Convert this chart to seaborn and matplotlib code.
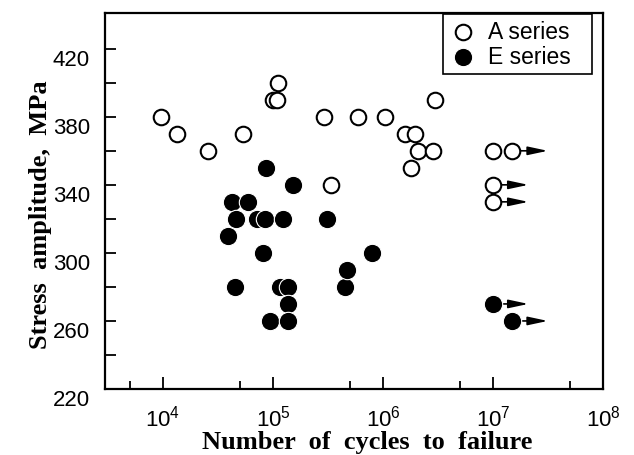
import numpy as np
import pandas as pd
import matplotlib
matplotlib.use("Agg")
import matplotlib.pyplot as plt
import seaborn as sns

# ---- data ----
a_cycles = [9.5e3, 1.34e4, 2.56e4, 5.3e4, 1.0e5, 1.09e5, 1.11e5, 2.9e5, 3.4e5,
            5.9e5, 1.04e6, 1.58e6, 1.8e6, 1.95e6, 2.08e6, 2.85e6, 3.0e6,
            1.0e7, 1.0e7, 1.0e7, 1.5e7]
a_stress = [380, 370, 360, 370, 390, 390, 400, 380, 340,
            380, 380, 370, 350, 370, 360, 360, 390,
            360, 340, 330, 360]
a_runout = [False, False, False, False, False, False, False, False, False,
            False, False, False, False, False, False, False, False,
            False, True, True, True]

e_cycles = [3.9e4, 4.24e4, 4.5e4, 4.6e4, 5.9e4, 7.2e4, 8.1e4, 8.5e4, 8.6e4,
            9.4e4, 1.16e5, 1.23e5, 1.37e5, 1.37e5, 1.37e5, 1.52e5, 3.1e5,
            4.5e5, 4.7e5, 7.9e5, 1.0e7, 1.5e7]
e_stress = [310, 330, 280, 320, 330, 320, 300, 320, 350,
            260, 280, 320, 280, 270, 260, 340, 320,
            280, 290, 300, 270, 260]
e_runout = [False] * 20 + [True, True]

x_ticks = [1e4, 1e5, 1e6, 1e7, 1e8]
x_minor = [5e3, 5e4, 5e5, 5e6, 5e7]
y_ticks = [220, 260, 300, 340, 380, 420]
y_minor = [240, 280, 320, 360, 400]

df_a = pd.DataFrame({"cycles": a_cycles, "stress": a_stress, "runout": a_runout})
df_e = pd.DataFrame({"cycles": e_cycles, "stress": e_stress, "runout": e_runout})

# ---- style ----
sns.set_style("ticks")
plt.rcParams["font.family"] = ["Liberation Sans", "DejaVu Sans"]
plt.rcParams["mathtext.default"] = "regular"
plt.rcParams["mathtext.fontset"] = "custom"
plt.rcParams["mathtext.rm"] = "Liberation Sans"
plt.rcParams["mathtext.it"] = "Liberation Sans"
for k in ("text.color", "axes.labelcolor", "xtick.color", "ytick.color", "axes.edgecolor"):
    plt.rcParams[k] = "black"

fig = plt.figure(figsize=(6.34, 4.56), dpi=100)
ax = fig.add_axes([105 / 634, 1 - 390 / 456, (603 - 105) / 634, (390 - 14) / 456])

arrow_factor = 2.1
for df in (df_a, df_e):
    for _, r in df[df["runout"]].iterrows():
        ax.annotate("", xy=(r["cycles"] * arrow_factor, r["stress"]),
                    xytext=(r["cycles"], r["stress"]),
                    arrowprops=dict(arrowstyle="-|>,head_length=0.75,head_width=0.16",
                                    color="black", lw=1.2, mutation_scale=16,
                                    shrinkA=0, shrinkB=0),
                    zorder=3)

sns.scatterplot(data=df_a, x="cycles", y="stress", ax=ax, marker="o", s=125,
                facecolor="white", edgecolor="black", linewidth=1.5,
                label="A series", zorder=4)
sns.scatterplot(data=df_e, x="cycles", y="stress", ax=ax, marker="o", s=175,
                color="black", edgecolor="white", linewidth=0.8,
                label="E series", zorder=4)

ax.set_xscale("log")
ax.set_xlim(2970, 1e8)
ax.set_ylim(220, 441)
ax.set_xticks(x_ticks)
ax.set_xticks(x_minor, minor=True)
ax.set_xticklabels([], minor=True)
ax.set_yticks(y_ticks)
ax.set_yticks(y_minor, minor=True)

for s in ax.spines.values():
    s.set_visible(True)
    s.set_linewidth(1.6)
    s.set_color("black")

ax.tick_params(axis="both", which="both", direction="in", color="black", width=1.3,
               top=False, right=False, labelcolor="black")
ax.tick_params(axis="x", which="major", length=9, pad=11, labelsize=16)
ax.tick_params(axis="x", which="minor", length=6)
ax.tick_params(axis="y", which="both", length=8, pad=10.8, labelsize=16)
for lab in ax.get_yticklabels():
    lab.set_verticalalignment("top")

ax.set_xlabel("Number  of  cycles  to  failure", family=["Liberation Serif"],
              fontweight="bold", fontsize=19)
ax.set_ylabel("Stress  amplitude,  MPa", family=["Liberation Serif"],
              fontweight="bold", fontsize=19)
ax.xaxis.set_label_coords(0.527, -0.108)
ax.yaxis.set_label_coords(-0.106, 0.465)

leg = ax.legend(loc="upper left", bbox_to_anchor=(0.679, 0.797, 0.299, 0.2),
                mode="expand", fontsize=16.5,
                frameon=True, fancybox=False, framealpha=1, edgecolor="black",
                handletextpad=0.5, borderpad=0.25, labelspacing=0.1,
                handlelength=1.2, markerscale=1.0, borderaxespad=0.0)
leg.get_frame().set_linewidth(1.2)

fig.savefig("out.png", dpi=100)
